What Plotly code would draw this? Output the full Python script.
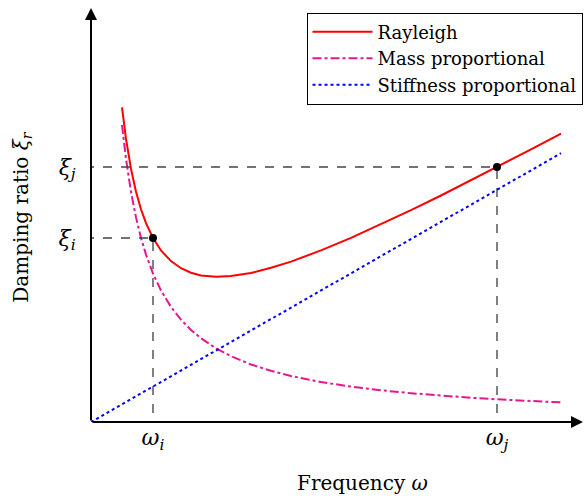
import plotly.graph_objects as go

# Frequency samples (arbitrary units) and damping ratios
freq = [0.31, 0.35, 0.40, 0.45, 0.50, 0.55, 0.62, 0.70, 0.80, 0.90, 1.00, 1.10, 1.25,
        1.40, 1.60, 1.80, 2.00, 2.30, 2.60, 2.90, 3.20, 3.50, 3.80, 4.06, 4.40, 4.70]
rayleigh = [3.147, 2.831, 2.531, 2.303, 2.127, 1.989, 1.840, 1.715, 1.609, 1.538, 1.493,
            1.466, 1.452, 1.459, 1.490, 1.542, 1.604, 1.716, 1.841, 1.976, 2.118, 2.265,
            2.416, 2.549, 2.726, 2.884]
mass = [2.970, 2.631, 2.302, 2.046, 1.841, 1.674, 1.485, 1.315, 1.151, 1.023, 0.921,
        0.837, 0.737, 0.658, 0.575, 0.512, 0.460, 0.400, 0.354, 0.317, 0.288, 0.263,
        0.242, 0.227, 0.209, 0.196]
stiff_freq = [0.0, 4.70]
stiffness = [0.0, 2.688]

omega_ticks = [0.62, 4.06]
omega_labels = ["<i>ω<sub>i</sub></i>", "<i>ω<sub>j</sub></i>"]
xi_ticks = [1.84, 2.55]
xi_labels = ["<i>ξ<sub>i</sub></i>", "<i>ξ<sub>j</sub></i>"]

FONT = "DejaVu Serif"

fig = go.Figure()
fig.add_trace(go.Scatter(x=freq, y=rayleigh, mode="lines", name="Rayleigh",
                         line=dict(color="#ff0000", width=2)))
fig.add_trace(go.Scatter(x=freq, y=mass, mode="lines", name="Mass proportional",
                         line=dict(color="#e6178c", width=2, dash="dashdot")))
fig.add_trace(go.Scatter(x=stiff_freq, y=stiffness, mode="lines", name="Stiffness proportional",
                         line=dict(color="#0000ff", width=2, dash="dot")))

# guide lines
for xv, yv in zip(omega_ticks, xi_ticks):
    fig.add_trace(go.Scatter(x=[-0.06, xv], y=[yv, yv], mode="lines", showlegend=False,
                             line=dict(color="#444444", width=1.3, dash="dash"), hoverinfo="skip"))
    fig.add_trace(go.Scatter(x=[xv, xv], y=[-0.09, yv], mode="lines", showlegend=False,
                             line=dict(color="#000000", width=1, dash="dash"), hoverinfo="skip"))
fig.add_trace(go.Scatter(x=omega_ticks, y=xi_ticks, mode="markers", showlegend=False,
                         marker=dict(color="black", size=8)))

# axes with arrows
fig.add_annotation(x=4.92, y=0, ax=0, ay=0, xref="x", yref="y", axref="x", ayref="y",
                   showarrow=True, arrowhead=2, arrowsize=1.2, arrowwidth=2, arrowcolor="black", text="")
fig.add_annotation(x=0, y=4.14, ax=0, ay=0, xref="x", yref="y", axref="x", ayref="y",
                   showarrow=True, arrowhead=2, arrowsize=1.2, arrowwidth=2, arrowcolor="black", text="")

fig.update_layout(
    width=585, height=496,
    margin=dict(l=91, r=0, t=0, b=74),
    plot_bgcolor="white", paper_bgcolor="white",
    font=dict(family=FONT, size=18, color="black"),
    legend=dict(x=0.995, y=0.97, xanchor="right", yanchor="top",
                bgcolor="white", bordercolor="black", borderwidth=1,
                font=dict(family=FONT, size=18), tracegroupgap=0, itemwidth=60),
    xaxis=dict(range=[0, 4.94], showgrid=False, zeroline=False, showline=False,
               tickvals=omega_ticks, ticktext=omega_labels, ticks="",
               tickfont=dict(family=FONT, size=22), fixedrange=True),
    yaxis=dict(range=[0, 4.22], showgrid=False, zeroline=False, showline=False,
               tickvals=xi_ticks, ticktext=xi_labels, ticks="outside", ticklen=10,
               tickcolor="rgba(0,0,0,0)", tickfont=dict(family=FONT, size=22), fixedrange=True),
)
fig.add_annotation(x=0.549, xref="paper", y=-0.145, yref="paper", yanchor="middle", xanchor="center",
                   text="Frequency <i>ω</i>", showarrow=False, font=dict(family=FONT, size=20))
fig.add_annotation(x=-0.14, xref="paper", y=0.486, yref="paper", textangle=-90,
                   xanchor="center", yanchor="middle",
                   text="Damping ratio <i>ξ<sub>r</sub></i>", showarrow=False,
                   font=dict(family=FONT, size=20))

fig.write_html("out.html")
